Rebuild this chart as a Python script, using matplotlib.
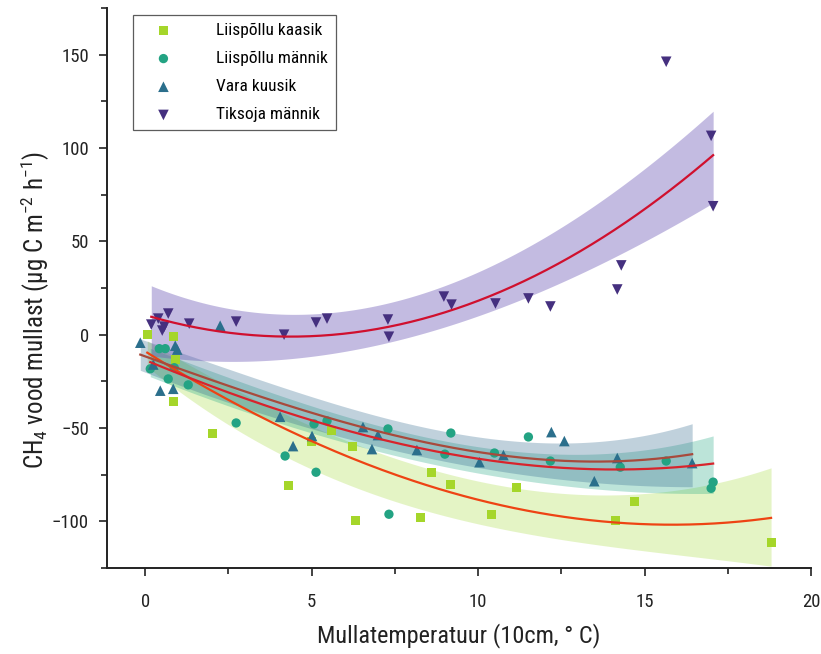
import numpy as np
import matplotlib
matplotlib.use("Agg")
import matplotlib.pyplot as plt
from matplotlib.ticker import MultipleLocator
from matplotlib import font_manager

# ---------------- data ----------------
series_names = ["Liispõllu kaasik", "Liispõllu männik", "Vara kuusik", "Tiksoja männik"]

kaasik_x = [0.06, 0.84, 0.90, 0.84, 2.01, 4.29, 4.98, 5.58, 6.24, 6.33, 8.28, 8.61, 9.18,
            10.40, 11.15, 14.12, 14.69, 18.80]
kaasik_y = [0.0, -1.1, -13.4, -36.0, -53.2, -80.6, -57.0, -51.6, -59.7, -99.5, -97.8, -73.7,
            -80.1, -96.2, -81.7, -99.5, -89.2, -111.3]

mannik_x = [0.42, 0.60, 0.15, 0.87, 0.69, 1.29, 2.73, 4.20, 5.13, 5.07, 5.46, 7.29, 7.32,
            9.18, 9.00, 10.49, 11.51, 12.17, 14.27, 15.65, 17.06, 17.00]
mannik_y = [-7.5, -7.5, -18.3, -17.7, -23.7, -26.9, -47.3, -65.0, -73.7, -47.8, -46.2, -50.5,
            -96.2, -52.7, -64.0, -63.4, -54.8, -67.7, -71.0, -67.7, -79.0, -82.3]

kuusik_x = [-0.15, 0.90, 0.96, 0.45, 0.84, 0.24, 2.25, 4.05, 4.44, 5.01, 6.54, 6.99, 6.81,
            8.16, 10.04, 10.76, 12.20, 12.59, 13.49, 14.18, 16.43]
kuusik_y = [-4.3, -5.9, -8.0, -30.0, -29.0, -16.0, 4.8, -44.0, -59.7, -54.3, -49.5, -53.8,
            -61.3, -61.8, -68.3, -64.5, -52.2, -57.0, -78.5, -66.1, -68.8]

tiksoja_x = [0.18, 0.39, 0.69, 0.51, 0.57, 1.32, 2.73, 4.17, 5.13, 5.46, 7.29, 7.32, 8.97,
             9.20, 10.52, 11.51, 12.17, 14.30, 14.18, 15.65, 17.00, 17.06]
tiksoja_y = [5.4, 8.6, 11.3, 2.2, 4.3, 5.9, 7.0, 0.0, 6.5, 8.6, 8.1, -1.1, 20.4, 16.1, 16.7,
             19.4, 15.1, 37.1, 24.2, 146.2, 106.5, 68.8]

# fitted curves and confidence bands (values read at sample temperatures)
kaasik_fit_x = [0.06, 1.68, 4.68, 7.68, 10.67, 13.07, 16.07, 18.80]
kaasik_fit_y = [-9, -28, -54, -76, -91, -99, -102, -98]
kaasik_hi = [-3, -20, -47, -67, -79, -88, -82, -71.5]
kaasik_lo = [-18, -37, -71, -90, -103, -112, -118, -124]

mannik_fit_x = [0.15, 1.68, 4.68, 7.68, 10.67, 13.07, 17.06]
mannik_fit_y = [-14, -27, -43, -59, -68, -72, -69]
mannik_hi = [-6, -20, -35, -52, -61, -65, -54]
mannik_lo = [-22, -34, -50, -66, -76, -82, -85]

kuusik_fit_x = [-0.15, 1.68, 4.68, 7.68, 10.67, 13.67, 16.43]
kuusik_fit_y = [-10, -24, -38.5, -55.5, -64.5, -68, -64]
kuusik_hi = [-1, -16, -30, -47, -55, -59, -47]
kuusik_lo = [-19, -32, -47, -64, -74, -78, -82]

tiksoja_fit_x = [0.18, 2.0, 4.2, 7.68, 10.5, 13.67, 15.47, 17.06]
tiksoja_fit_y = [9, 3, -0.5, 5.4, 20, 53, 73.6, 95.5]
tiksoja_hi = [26, 16, 11, 20, 35, 73, 96, 119]
tiksoja_lo = [-12, -13, -13, -4, 14, 39, 53, 71]

x_ticks = [0, 5, 10, 15, 20]
y_ticks = [-100, -50, 0, 50, 100, 150]

# ---------------- style ----------------
avail = {f.name for f in font_manager.fontManager.ttflist}
fams = [f for f in ["Roboto Condensed", "Liberation Sans Narrow", "DejaVu Sans Condensed",
                    "DejaVu Sans"] if f in avail]
plt.rcParams["font.family"] = fams
plt.rcParams["mathtext.fontset"] = "custom"
plt.rcParams["mathtext.rm"] = fams[0]
plt.rcParams["mathtext.it"] = fams[0]

marker_colors = ["#a5d62a", "#23a383", "#2b6f8c", "#45307f"]
band_colors = ["#a0d832", "#22a884", "#31688e", "#6a56b5"]
band_alpha = [0.28, 0.30, 0.30, 0.40]
line_colors = ["#ee4314", "#d8242c", "#a84a3c", "#d0102e"]
markers = ["s", "o", "^", "v"]
sizes = [42, 45, 58, 58]

fig = plt.figure(figsize=(8.21, 6.54), dpi=100)
ax = fig.add_axes([107 / 821, 86 / 654, 704 / 821, 560 / 654])

groups = [
    (kaasik_x, kaasik_y, kaasik_fit_x, kaasik_fit_y, kaasik_hi, kaasik_lo),
    (mannik_x, mannik_y, mannik_fit_x, mannik_fit_y, mannik_hi, mannik_lo),
    (kuusik_x, kuusik_y, kuusik_fit_x, kuusik_fit_y, kuusik_hi, kuusik_lo),
    (tiksoja_x, tiksoja_y, tiksoja_fit_x, tiksoja_fit_y, tiksoja_hi, tiksoja_lo),
]


def smooth(xs, ys, grid, deg=3):
    c = np.polyfit(xs, ys, deg)
    return np.polyval(c, grid)


curves = []
for i, (px, py, fx, fy, hi, lo) in enumerate(groups):
    grid = np.linspace(min(fx), max(fx), 200)
    ax.fill_between(grid, smooth(fx, lo, grid), smooth(fx, hi, grid),
                    color=band_colors[i], alpha=band_alpha[i], lw=0, zorder=1 + i * 0.1)
    curves.append((grid, smooth(fx, fy, grid)))

for i, (px, py, *_rest) in enumerate(groups):
    ax.scatter(px, py, marker=markers[i], s=sizes[i], color=marker_colors[i],
               edgecolors="none", zorder=3, label=series_names[i])

for i, (g, c) in enumerate(curves):
    ax.plot(g, c, color=line_colors[i], lw=1.6, zorder=4)

ax.set_xlim(-1.15, 20)
ax.set_ylim(-125, 175)
ax.set_xticks(x_ticks)
ax.set_yticks(y_ticks)
ax.xaxis.set_minor_locator(MultipleLocator(2.5))
ax.yaxis.set_minor_locator(MultipleLocator(25))
ax.tick_params(which="major", direction="out", length=6, width=1.2, labelsize=13.5,
               color="#222222", labelcolor="#222222")
ax.tick_params(which="minor", direction="out", length=4, width=1.2, color="#222222")
ax.tick_params(axis="x", pad=12)
ax.tick_params(axis="y", pad=7)
for s in ["top", "right"]:
    ax.spines[s].set_visible(False)
for s in ["left", "bottom"]:
    ax.spines[s].set_linewidth(1.4)
    ax.spines[s].set_color("#222222")

ax.set_xlabel("Mullatemperatuur (10cm, ° C)", fontsize=17.5, color="#222222", labelpad=9)
ax.set_ylabel(r"CH$_4$ vood mullast (µg C m$^{-2}$ h$^{-1}$)", fontsize=18,
              color="#222222")
ax.yaxis.set_label_coords(-0.078, 0.46)

leg = ax.legend(loc="upper left", bbox_to_anchor=(0.037, 0.9875), borderaxespad=0,
                fontsize=12.5, frameon=True, fancybox=False, handletextpad=1.75,
                borderpad=0.45, labelspacing=0.75, handlelength=2.6, scatterpoints=1)
leg.get_frame().set_edgecolor("#333333")
leg.get_frame().set_linewidth(0.9)

fig.savefig("out.png", dpi=100)
